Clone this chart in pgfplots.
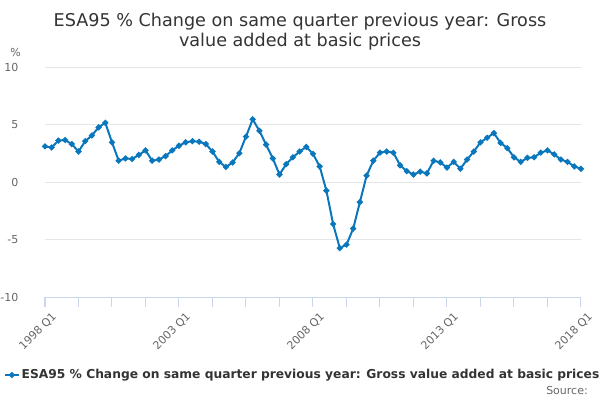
\documentclass[border=0pt]{standalone}
\usepackage{pgfplots}
\pgfplotsset{compat=1.18}
\usepackage{fontspec}
\setmainfont{DejaVu Sans}
\definecolor{linec}{HTML}{0A77BD}
\definecolor{gridc}{HTML}{E6E6E6}
\definecolor{axisc}{HTML}{CCD6EB}
\definecolor{labc}{HTML}{666666}
\definecolor{titc}{HTML}{333333}
\pgfplotstableread{
i v
0 3.1
1 3.0
2 3.6
3 3.65
4 3.3
5 2.65
6 3.55
7 4.05
8 4.75
9 5.15
10 3.45
11 1.85
12 2.05
13 2.0
14 2.35
15 2.75
16 1.85
17 1.95
18 2.25
19 2.75
20 3.15
21 3.45
22 3.55
23 3.5
24 3.3
25 2.65
26 1.75
27 1.3
28 1.7
29 2.5
30 3.95
31 5.45
32 4.45
33 3.25
34 2.05
35 0.65
36 1.55
37 2.15
38 2.65
39 3.05
40 2.45
41 1.35
42 -0.75
43 -3.65
44 -5.75
45 -5.45
46 -4.05
47 -1.75
48 0.55
49 1.85
50 2.55
51 2.65
52 2.55
53 1.45
54 0.95
55 0.65
56 0.9
57 0.75
58 1.85
59 1.7
60 1.25
61 1.75
62 1.15
63 1.95
64 2.65
65 3.45
66 3.85
67 4.25
68 3.4
69 2.95
70 2.15
71 1.75
72 2.1
73 2.15
74 2.55
75 2.75
76 2.4
77 1.95
78 1.75
79 1.35
80 1.15
}\gdp
\begin{document}
\begin{tikzpicture}
\useasboundingbox (0,0) rectangle (450pt,300pt);
\node[font=\fontsize{13.2}{15}\selectfont, text=titc, align=center] at (225pt,276pt)
  {ESA95 \% Change on same quarter previous year: Gross\\value added at basic prices};
\node[font=\fontsize{8.25}{10}\selectfont, text=labc, anchor=west, inner sep=0] at (7.5pt,261pt) {\%};
\node[font=\fontsize{8.25}{10}\selectfont, text=labc, anchor=east, inner sep=0] at (441pt,7.5pt) {Source:};
\begin{axis}[
  at={(33.75pt,77.25pt)}, anchor=south west,
  scale only axis, width=402pt, height=172.5pt,
  xmin=0, xmax=80, ymin=-10, ymax=10,
  axis x line*=bottom, axis y line*=left,
  axis line style={-},
  y axis line style={draw=none},
  x axis line style={draw=axisc, line width=0.75pt},
  ytick={-10,-5,0,5,10},
  ymajorgrids, major grid style={draw=gridc, line width=0.75pt},
  ytick style={draw=none},
  xtick={0,20,40,60,80},
  xticklabels={1998 Q1,2003 Q1,2008 Q1,2013 Q1,2018 Q1},
  minor xtick={5,10,15,25,30,35,45,50,55,65,70,75},
  tick align=outside, major tick length=7.5pt, minor tick length=7.5pt,
  xtick style={draw=axisc, line width=0.75pt},
  minor x tick style={draw=axisc, line width=0.75pt},
  /pgf/number format/assume math mode=true,
  ticklabel style={font=\fontsize{8.25}{10}\selectfont, text=labc},
  yticklabel style={xshift=-9pt},
  xticklabel style={rotate=45, anchor=north east, inner sep=1pt, xshift=2pt, yshift=-4.5pt},
  clip=false,
  legend style={at={(-0.077,-0.339)}, anchor=west, draw=none, fill=none,
    inner sep=0pt, font=\fontsize{9.2}{12}\selectfont\bfseries, text=titc,
    nodes={inner sep=1.5pt}},
  legend image code/.code={\draw[mark repeat=2,mark phase=2] plot coordinates {(-0.08cm,0cm) (0.1cm,0cm) (0.28cm,0cm)};},
]
\addplot[color=linec, line width=1.5pt, mark=*, mark size=1.4pt, mark options={solid}] table[x=i,y=v] {\gdp};
\addlegendentry{ESA95 \% Change on same quarter previous year: Gross value added at basic prices}
\end{axis}
\end{tikzpicture}
\end{document}
